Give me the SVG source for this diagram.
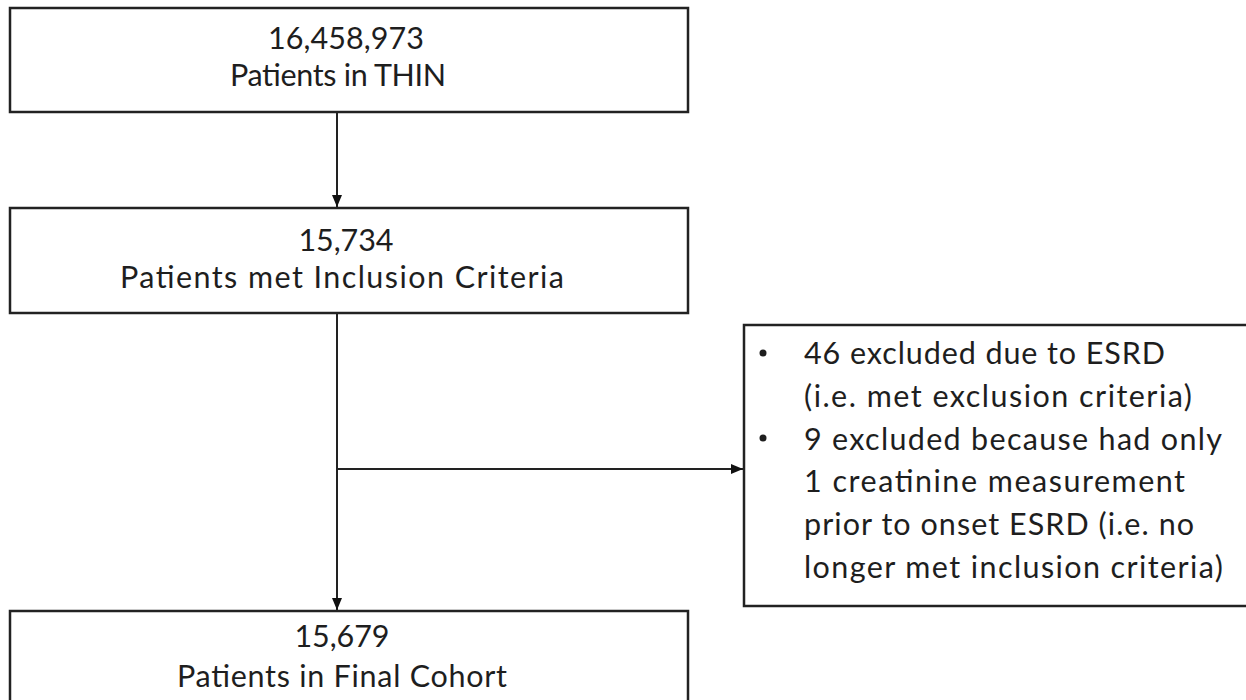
<svg xmlns="http://www.w3.org/2000/svg" width="1246" height="700" viewBox="0 0 1246 700">
  <style>
    .box { fill: #ffffff; stroke: #222222; stroke-width: 2.5; }
    .t { font-family: Lato, "Open Sans", "Liberation Sans", sans-serif; font-size: 30.5px; fill: #1e1e1e; }
    .c { text-anchor: middle; }
    .line { stroke: #222222; stroke-width: 2; fill: none; }
  </style>
  <defs>
    <marker id="arrow" viewBox="0 0 12 10" refX="12" refY="5" markerWidth="12" markerHeight="10" markerUnits="userSpaceOnUse" orient="auto">
      <path d="M0,0 L12,5 L0,10 z" fill="#111111"/>
    </marker>
  </defs>
  <rect width="1246" height="700" fill="#ffffff"/>
  <g id="connectors">
    <line class="line" x1="337" y1="112" x2="337" y2="207" marker-end="url(#arrow)"/>
    <line class="line" x1="337" y1="313" x2="337" y2="610" marker-end="url(#arrow)"/>
    <line class="line" x1="337" y1="469" x2="743" y2="469" marker-end="url(#arrow)"/>
  </g>
  <g id="node-thin">
    <rect class="box" x="10" y="8" width="678" height="104"/>
    <text class="t c" x="346" y="49" textLength="156">16,458,973</text>
    <text class="t c" x="338" y="86" textLength="216">Patients in THIN</text>
  </g>
  <g id="node-inclusion">
    <rect class="box" x="10" y="208" width="678" height="105"/>
    <text class="t c" x="346" y="251" textLength="95">15,734</text>
    <text class="t c" x="342" y="288" textLength="444">Patients met Inclusion Criteria</text>
  </g>
  <g id="node-excluded">
    <rect class="box" x="744" y="325" width="510" height="281"/>
    <circle cx="763" cy="353" r="3.5" fill="#1e1e1e"/>
    <circle cx="763" cy="438" r="3.5" fill="#1e1e1e"/>
    <text class="t" x="804" y="364" textLength="361">46 excluded due to ESRD</text>
    <text class="t" x="804" y="407" textLength="388">(i.e. met exclusion criteria)</text>
    <text class="t" x="804" y="450" textLength="418">9 excluded because had only</text>
    <text class="t" x="804" y="492" textLength="381">1 creatinine measurement</text>
    <text class="t" x="804" y="535" textLength="390">prior to onset ESRD (i.e. no</text>
    <text class="t" x="804" y="578" textLength="419">longer met inclusion criteria)</text>
  </g>
  <g id="node-final">
    <rect class="box" x="10" y="611" width="678" height="110"/>
    <text class="t c" x="342" y="647" textLength="95">15,679</text>
    <text class="t c" x="342" y="687" textLength="330">Patients in Final Cohort</text>
  </g>
</svg>
